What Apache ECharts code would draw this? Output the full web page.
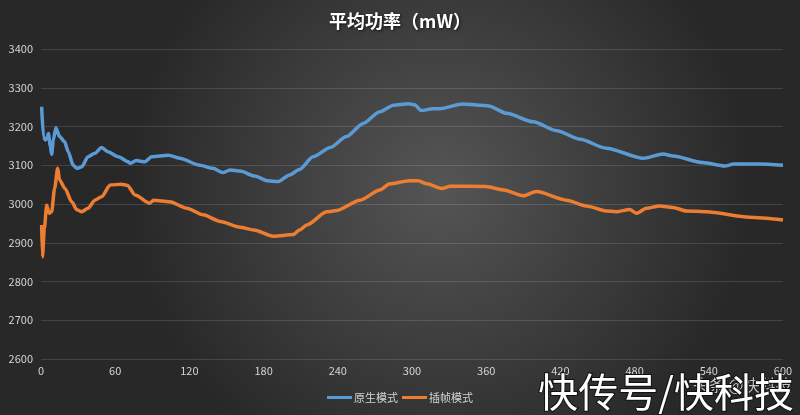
<!DOCTYPE html>
<html>
<head>
<meta charset="utf-8">
<script src="https://cdn.jsdelivr.net/npm/echarts@6/dist/echarts.min.js"></script>
<style>html,body{margin:0;padding:0;}#c{width:800px;height:415px;}</style>
</head>
<body>
<div id="c"></div>
<script>
var titleText = '平均功率（mW）';
var seriesNames = ['原生模式', '插帧模式'];
var xTicks = [0, 60, 120, 180, 240, 300, 360, 420, 480, 540, 600];
var yTicks = [2600, 2700, 2800, 2900, 3000, 3100, 3200, 3300, 3400];

var nativeTimes = [0.5,2,3.5,5,6,7.5,8.6,10,12,15,19,22,26,29,33,38,43.6,49,54,62.5,70.6,72,77,84,89.5,103,112,128.5,139,147,153,161,173,183,192,201,209,220,234,247,260.5,274,285,297,302,307.5,317,322.5,341,355,362,376.5,398,417,436,457,487,503,511,535,553,560,581,600];
var nativeValues = [3251,3174,3165,3170,3182,3150,3128,3165,3197,3174,3161,3135,3100,3092,3096,3122,3131,3146,3135,3122,3109,3105,3112,3109,3122,3126,3118,3100,3092,3081,3088,3085,3072,3060,3058,3075,3089,3122,3146,3174,3208,3238,3255,3259,3256,3241,3246,3246,3258,3255,3253,3234,3212,3189,3167,3144,3118,3129,3124,3107,3098,3103,3103,3100];

var frameTimes = [0.5,1.2,2.7,4.6,6.5,8.6,11,13.5,15,19.4,24.8,29,33,38,43.6,49,56,65,70,76,88,91,104,118,131,145,161,172,188,204,209,215,231,239,258,274,282,298,305,312,324,331,360,374,390,400.7,425,441,457,465,476,481.6,489.6,500,511,522,538,573,600];
var frameValues = [2946,2864,2937,2997,2976,2980,3040,3092,3062,3040,3006,2985,2980,2989,3010,3019,3049,3051,3048,3023,3002,3010,3006,2989,2972,2955,2940,2933,2917,2921,2933,2946,2980,2983,3010,3036,3052,3060,3060,3052,3040,3046,3045,3036,3021,3032,3010,2995,2982,2980,2986,2976,2989,2995,2991,2982,2980,2966,2959];

function pairs(t, v) { return t.map(function (x, i) { return [x, v[i]]; }); }

var chart = echarts.init(document.getElementById('c'));
var labelFont = { color: '#d4d4d4', fontSize: 11, fontFamily: '"Noto Sans CJK SC", "Open Sans", sans-serif' };
chart.setOption({
  backgroundColor: {
    type: 'radial', x: 0.55, y: 0.45, r: 0.75,
    colorStops: [{ offset: 0, color: '#555555' }, { offset: 1, color: '#282828' }]
  },
  title: {
    text: titleText, left: 'center', top: 7,
    textStyle: { color: '#ffffff', fontSize: 18, fontWeight: 'bold', fontFamily: '"Noto Sans CJK SC", sans-serif',
      textShadowColor: 'rgba(0,0,0,0.7)', textShadowBlur: 3, textShadowOffsetX: 1, textShadowOffsetY: 1 }
  },
  legend: {
    bottom: 7, left: 'center', itemWidth: 25, itemHeight: 3, itemGap: 4, icon: 'rect',
    textStyle: Object.assign({ padding: [0, 0, 0, -3] }, labelFont),
    data: seriesNames
  },
  grid: { left: 41, right: 17, top: 49, bottom: 56, containLabel: false },
  xAxis: {
    type: 'value', min: 0, max: 600, interval: 60,
    axisLine: { show: false }, axisTick: { show: false }, splitLine: { show: false },
    axisLabel: Object.assign({ margin: 6, formatter: function (v) { return xTicks.indexOf(v) >= 0 ? String(v) : ''; } }, labelFont)
  },
  yAxis: {
    type: 'value', min: 2600, max: 3400, interval: 100,
    axisLine: { show: false }, axisTick: { show: false },
    splitLine: { lineStyle: { color: 'rgba(255,255,255,0.13)', width: 1 } },
    axisLabel: Object.assign({ margin: 8, formatter: function (v) { return yTicks.indexOf(v) >= 0 ? String(v) : ''; } }, labelFont)
  },
  series: [
    { name: seriesNames[0], type: 'line', data: pairs(nativeTimes, nativeValues), showSymbol: false, smooth: 0.25, smoothMonotone: 'x',
      itemStyle: { color: '#5b9bd5' }, lineStyle: { color: '#5b9bd5', width: 3.5 } },
    { name: seriesNames[1], type: 'line', data: pairs(frameTimes, frameValues), showSymbol: false, smooth: 0.25, smoothMonotone: 'x',
      itemStyle: { color: '#ed7d31' }, lineStyle: { color: '#ed7d31', width: 3.5 } }
  ],
  graphic: [
    { type: 'text', right: 8, bottom: 22, z: 100,
      style: { text: '头条 @快科技', fontSize: 16, fill: 'rgba(255,255,255,0.75)', stroke: 'rgba(0,0,0,0.6)', lineWidth: 1,
        fontFamily: '"Noto Sans CJK SC", sans-serif' } },
    { type: 'text', right: 5, bottom: 2, z: 101,
      style: { text: '快传号/快科技', fontSize: 40, fill: '#ffffff', stroke: '#111111', lineWidth: 2,
        fontFamily: '"Noto Sans CJK SC", sans-serif' } }
  ]
});
</script>
</body>
</html>
